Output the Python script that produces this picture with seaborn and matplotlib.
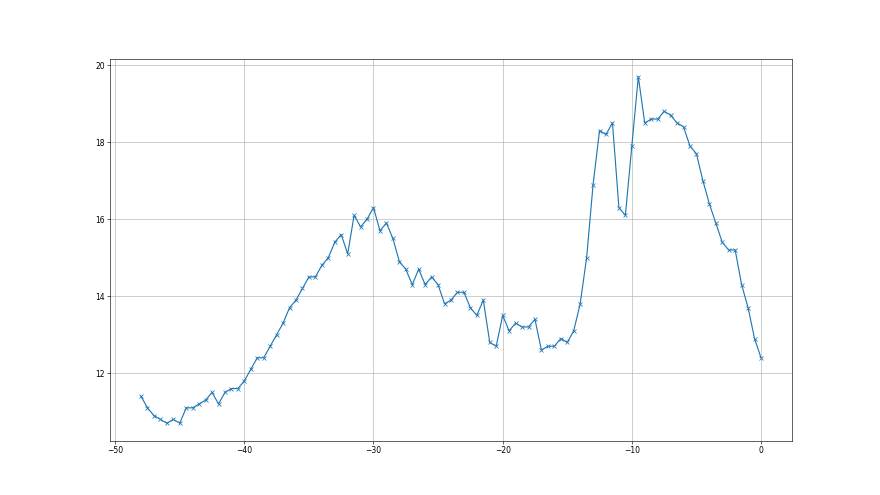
import numpy as np
import pandas as pd
import seaborn as sns
import matplotlib
matplotlib.use("Agg")
import matplotlib.pyplot as plt

# x positions: every half unit from -48 to 0
x_values = [i / 2 for i in range(-96, 1)]

y_values = [
    11.4, 11.1, 10.9, 10.8, 10.7, 10.8, 10.7, 11.1, 11.1, 11.2,
    11.3, 11.5, 11.2, 11.5, 11.6, 11.6, 11.8, 12.1, 12.4, 12.4,
    12.7, 13.0, 13.3, 13.7, 13.9, 14.2, 14.5, 14.5, 14.8, 15.0,
    15.4, 15.6, 15.1, 16.1, 15.8, 16.0, 16.3, 15.7, 15.9, 15.5,
    14.9, 14.7, 14.3, 14.7, 14.3, 14.5, 14.3, 13.8, 13.9, 14.1,
    14.1, 13.7, 13.5, 13.9, 12.8, 12.7, 13.5, 13.1, 13.3, 13.2,
    13.2, 13.4, 12.6, 12.7, 12.7, 12.9, 12.8, 13.1, 13.8, 15.0,
    16.9, 18.3, 18.2, 18.5, 16.3, 16.1, 17.9, 19.7, 18.5, 18.6,
    18.6, 18.8, 18.7, 18.5, 18.4, 17.9, 17.7, 17.0, 16.4, 15.9,
    15.4, 15.2, 15.2, 14.3, 13.7, 12.9, 12.4,
]

df = pd.DataFrame({"x": x_values, "y": y_values})

fig, ax = plt.subplots(figsize=(16, 9), dpi=55)
sns.lineplot(data=df, x="x", y="y", ax=ax, color="#1f77b4", marker="x",
             markersize=6, markeredgecolor="#1f77b4", markeredgewidth=1,
             linewidth=1.5)
ax.grid(True, color="#b0b0b0", linewidth=0.8)
ax.set_xlabel("")
ax.set_ylabel("")
ax.set_xticks([-50, -40, -30, -20, -10, 0])
ax.set_yticks([12, 14, 16, 18, 20])

plt.savefig("out.png", dpi=55)
